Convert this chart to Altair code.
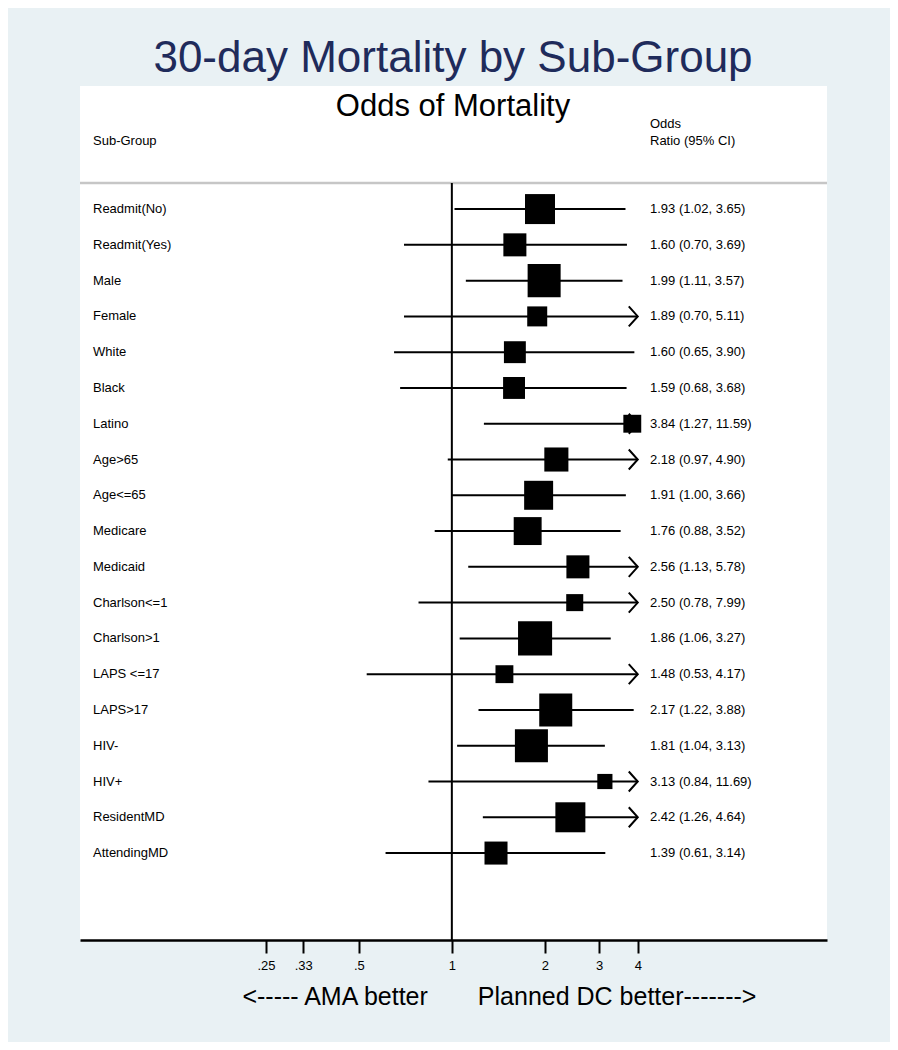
import altair as alt
import pandas as pd

# ---------------- data ----------------
groups = ["Readmit(No)", "Readmit(Yes)", "Male", "Female", "White", "Black",
          "Latino", "Age>65", "Age<=65", "Medicare", "Medicaid", "Charlson<=1",
          "Charlson>1", "LAPS <=17", "LAPS>17", "HIV-", "HIV+", "ResidentMD",
          "AttendingMD"]
odds = [1.93, 1.60, 1.99, 1.89, 1.60, 1.59, 3.84, 2.18, 1.91, 1.76, 2.56, 2.50,
        1.86, 1.48, 2.17, 1.81, 3.13, 2.42, 1.39]
lower = [1.02, 0.70, 1.11, 0.70, 0.65, 0.68, 1.27, 0.97, 1.00, 0.88, 1.13, 0.78,
         1.06, 0.53, 1.22, 1.04, 0.84, 1.26, 0.61]
upper = [3.65, 3.69, 3.57, 5.11, 3.90, 3.68, 11.59, 4.90, 3.66, 3.52, 5.78, 7.99,
         3.27, 4.17, 3.88, 3.13, 11.69, 4.64, 3.14]
# study weights (box area is proportional to weight)
weights = [9.0, 5.3, 10.9, 4.0, 4.8, 4.8, 3.2, 5.8, 8.4, 7.8, 5.3, 2.9,
           11.6, 3.2, 10.9, 10.9, 2.3, 9.0, 5.3]

tick_values = [0.25, 0.33, 0.5, 1, 2, 3, 4]
tick_labels = [".25", ".33", ".5", "1", "2", "3", "4"]

title_text = "30-day Mortality by Sub-Group"
subtitle_text = "Odds of Mortality"
col1_header = ["Sub-Group"]
col2_header = ["Odds", "Ratio (95% CI)"]
left_note = "<----- AMA better"
right_note = "Planned DC better------->"

# ---------------- table ----------------
df = pd.DataFrame({
    "group": groups,
    "or": odds,
    "lo": lower,
    "hi": upper,
    "w": weights,
    "row": list(range(1, len(groups) + 1)),
})
df["label"] = [f"{o:.2f} ({l:.2f}, {h:.2f})" for o, l, h in zip(odds, lower, upper)]

W, H = 747, 854
FONT = "Liberation Sans"
ARROW_AT = 4
BG = "#e9f1f4"
NAVY = "#1f2b5b"

label_expr = "''"
for v, t in reversed(list(zip(tick_values, tick_labels))):
    label_expr = f"abs(datum.value - {v}) < 1e-6 ? '{t}' : ({label_expr})"

xscale = alt.Scale(type="log", domain=[0.0625, 16.4], nice=False)
yscale = alt.Scale(domain=[-2.44, 21.43], reverse=True, nice=False, zero=False)
x_axis = alt.Axis(values=tick_values, labelExpr=label_expr, title=None,
                  grid=False, domainColor="black", domainWidth=2.5,
                  tickColor="black", tickWidth=2, tickSize=13,
                  labelFont=FONT, labelFontSize=13, labelColor="black",
                  labelPadding=6, labelOverlap=False, labelFlush=False)

base = alt.Chart(df)

separator = alt.Chart(pd.DataFrame({"a": [0]})).mark_rule(
    color="#c6c6c6", strokeWidth=2.5).encode(
    x=alt.value(0), x2=alt.value(W), y=alt.value(97))

ref_line = alt.Chart(pd.DataFrame({"ref": [1]})).mark_rule(
    color="black", strokeWidth=2).encode(
    x=alt.X("ref:Q", scale=xscale, axis=x_axis),
    y=alt.value(97), y2=alt.value(H))

ci_lines = base.transform_calculate(
    hi_c=f"min(datum.hi, {ARROW_AT})").mark_rule(
    color="black", strokeWidth=2).encode(
    x=alt.X("lo:Q", scale=xscale, axis=x_axis),
    x2="hi_c:Q",
    y=alt.Y("row:Q", scale=yscale, axis=None))

arrows = base.transform_filter(f"datum.hi > {ARROW_AT}").transform_calculate(
    tip=f"{ARROW_AT}").mark_point(
    shape="M-0.9,-1L0,0L-0.9,1", filled=False, stroke="black",
    strokeWidth=2, size=400, opacity=1).encode(
    x=alt.X("tip:Q", scale=xscale, axis=x_axis),
    y=alt.Y("row:Q", scale=yscale, axis=None))

boxes = base.mark_square(filled=True, color="black", opacity=1).encode(
    x=alt.X("or:Q", scale=xscale, axis=x_axis),
    y=alt.Y("row:Q", scale=yscale, axis=None),
    size=alt.Size("w:Q", scale=alt.Scale(domain=[0, 10], range=[0, 1000]),
                  legend=None))

row_labels = base.mark_text(align="left", baseline="middle", font=FONT,
                            fontSize=13, color="black").encode(
    x=alt.value(13), y=alt.Y("row:Q", scale=yscale, axis=None), text="group:N")

or_labels = base.mark_text(align="left", baseline="middle", font=FONT,
                           fontSize=13, color="black").encode(
    x=alt.value(570), y=alt.Y("row:Q", scale=yscale, axis=None), text="label:N")


def note(text, x, y, size, align="center", color="black", baseline="alphabetic"):
    return alt.Chart(pd.DataFrame({"t": [text]})).mark_text(
        align=align, baseline=baseline, font=FONT, fontSize=size,
        color=color).encode(x=alt.value(x), y=alt.value(y), text="t:N")


title = note(title_text, 373, -14, 44, color=NAVY)
subtitle = note(subtitle_text, 373, 30, 31)
h1 = note(col1_header[0], 13, 59, 13, align="left")
h2a = note(col2_header[0], 570, 42, 13, align="left")
h2b = note(col2_header[1], 570, 59, 13, align="left")

left_txt = alt.Chart(pd.DataFrame({"t": [left_note], "ref": [1]})).mark_text(
    align="right", baseline="middle", font=FONT, fontSize=25, color="black",
    dx=-24).encode(x=alt.X("ref:Q", scale=xscale, axis=x_axis),
                   y=alt.value(911), text="t:N")
right_txt = alt.Chart(pd.DataFrame({"t": [right_note], "ref": [1]})).mark_text(
    align="left", baseline="middle", font=FONT, fontSize=25, color="black",
    dx=26).encode(x=alt.X("ref:Q", scale=xscale, axis=x_axis),
                  y=alt.value(911), text="t:N")

chart = alt.layer(
    separator, ref_line, ci_lines, arrows, boxes, row_labels, or_labels,
    title, subtitle, h1, h2a, h2b, left_txt, right_txt
).properties(
    width=W, height=H, background=BG,
    padding={"left": 72, "top": 78, "right": 63, "bottom": 102},
    autosize=alt.AutoSizeParams(type="none"),
).configure_view(fill="white", stroke=None)

chart.save("out.html", embed_options={"renderer": "svg", "actions": False})
